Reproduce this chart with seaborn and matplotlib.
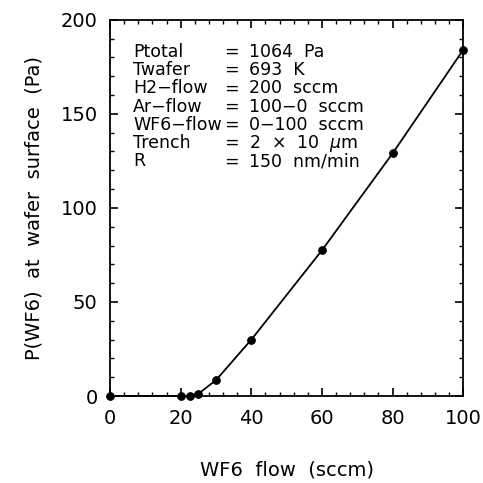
import matplotlib
matplotlib.use("Agg")
import matplotlib.pyplot as plt
import seaborn as sns
import pandas as pd
from matplotlib.ticker import MultipleLocator

wf6_flow = [0, 20, 22.5, 25, 30, 40, 60, 80, 100]
p_wf6 = [0, 0, 0, 1.2, 8.5, 30, 77.5, 129, 184]

info_labels = ["Ptotal", "Twafer", "H2\u2212flow", "Ar\u2212flow", "WF6\u2212flow", "Trench", "R"]
info_values = ["1064  Pa", "693  K", "200  sccm", "100\u22120  sccm", "0\u2212100  sccm",
               "2  \u00d7  10  $\\mu$m", "150  nm/min"]

sns.set_theme(style="white")
plt.rcParams['font.family'] = ['DejaVu Sans']
plt.rcParams['mathtext.fontset'] = 'dejavusans'
plt.rcParams['text.color'] = 'black'
plt.rcParams['axes.labelcolor'] = 'black'
plt.rcParams['xtick.color'] = 'black'
plt.rcParams['ytick.color'] = 'black'

df = pd.DataFrame({"flow": wf6_flow, "p": p_wf6})

fig = plt.figure(figsize=(4.83, 4.83), dpi=100)
ax = fig.add_axes([0.228, 0.180, 0.731, 0.779])

sns.lineplot(data=df, x="flow", y="p", ax=ax, color="black", linewidth=1.3,
             marker="o", markersize=5.5, markeredgecolor="black", markerfacecolor="black",
             clip_on=False, zorder=5)

ax.set_xlim(0, 100)
ax.set_ylim(0, 200)
ax.xaxis.set_major_locator(MultipleLocator(20))
ax.xaxis.set_minor_locator(MultipleLocator(4))
ax.yaxis.set_major_locator(MultipleLocator(50))
ax.yaxis.set_minor_locator(MultipleLocator(10))
ax.tick_params(which="both", direction="in", top=True, right=True, bottom=True, left=True,
               color="black", labelcolor="black")
ax.tick_params(which="major", length=6, width=1.2, labelsize=14, pad=9)
ax.tick_params(which="minor", length=3, width=1.0)
for s in ax.spines.values():
    s.set_color("black")
    s.set_linewidth(1.3)
ax.grid(False)

ax.set_xlabel("WF6  flow  (sccm)", fontsize=14, labelpad=24)
ax.set_ylabel("P(WF6)  at  wafer  surface  (Pa)", fontsize=14, labelpad=12)

y0 = 183
dy = 9.7
for i, (lab, val) in enumerate(zip(info_labels, info_values)):
    yy = y0 - i * dy
    ax.text(6.5, yy, lab, fontsize=12.5, va="center", ha="left", color="black")
    ax.text(32.3, yy, "=", fontsize=12.5, va="center", ha="left", color="black")
    ax.text(39.3, yy, val, fontsize=12.5, va="center", ha="left", color="black")

fig.savefig("out.png", dpi=100)
